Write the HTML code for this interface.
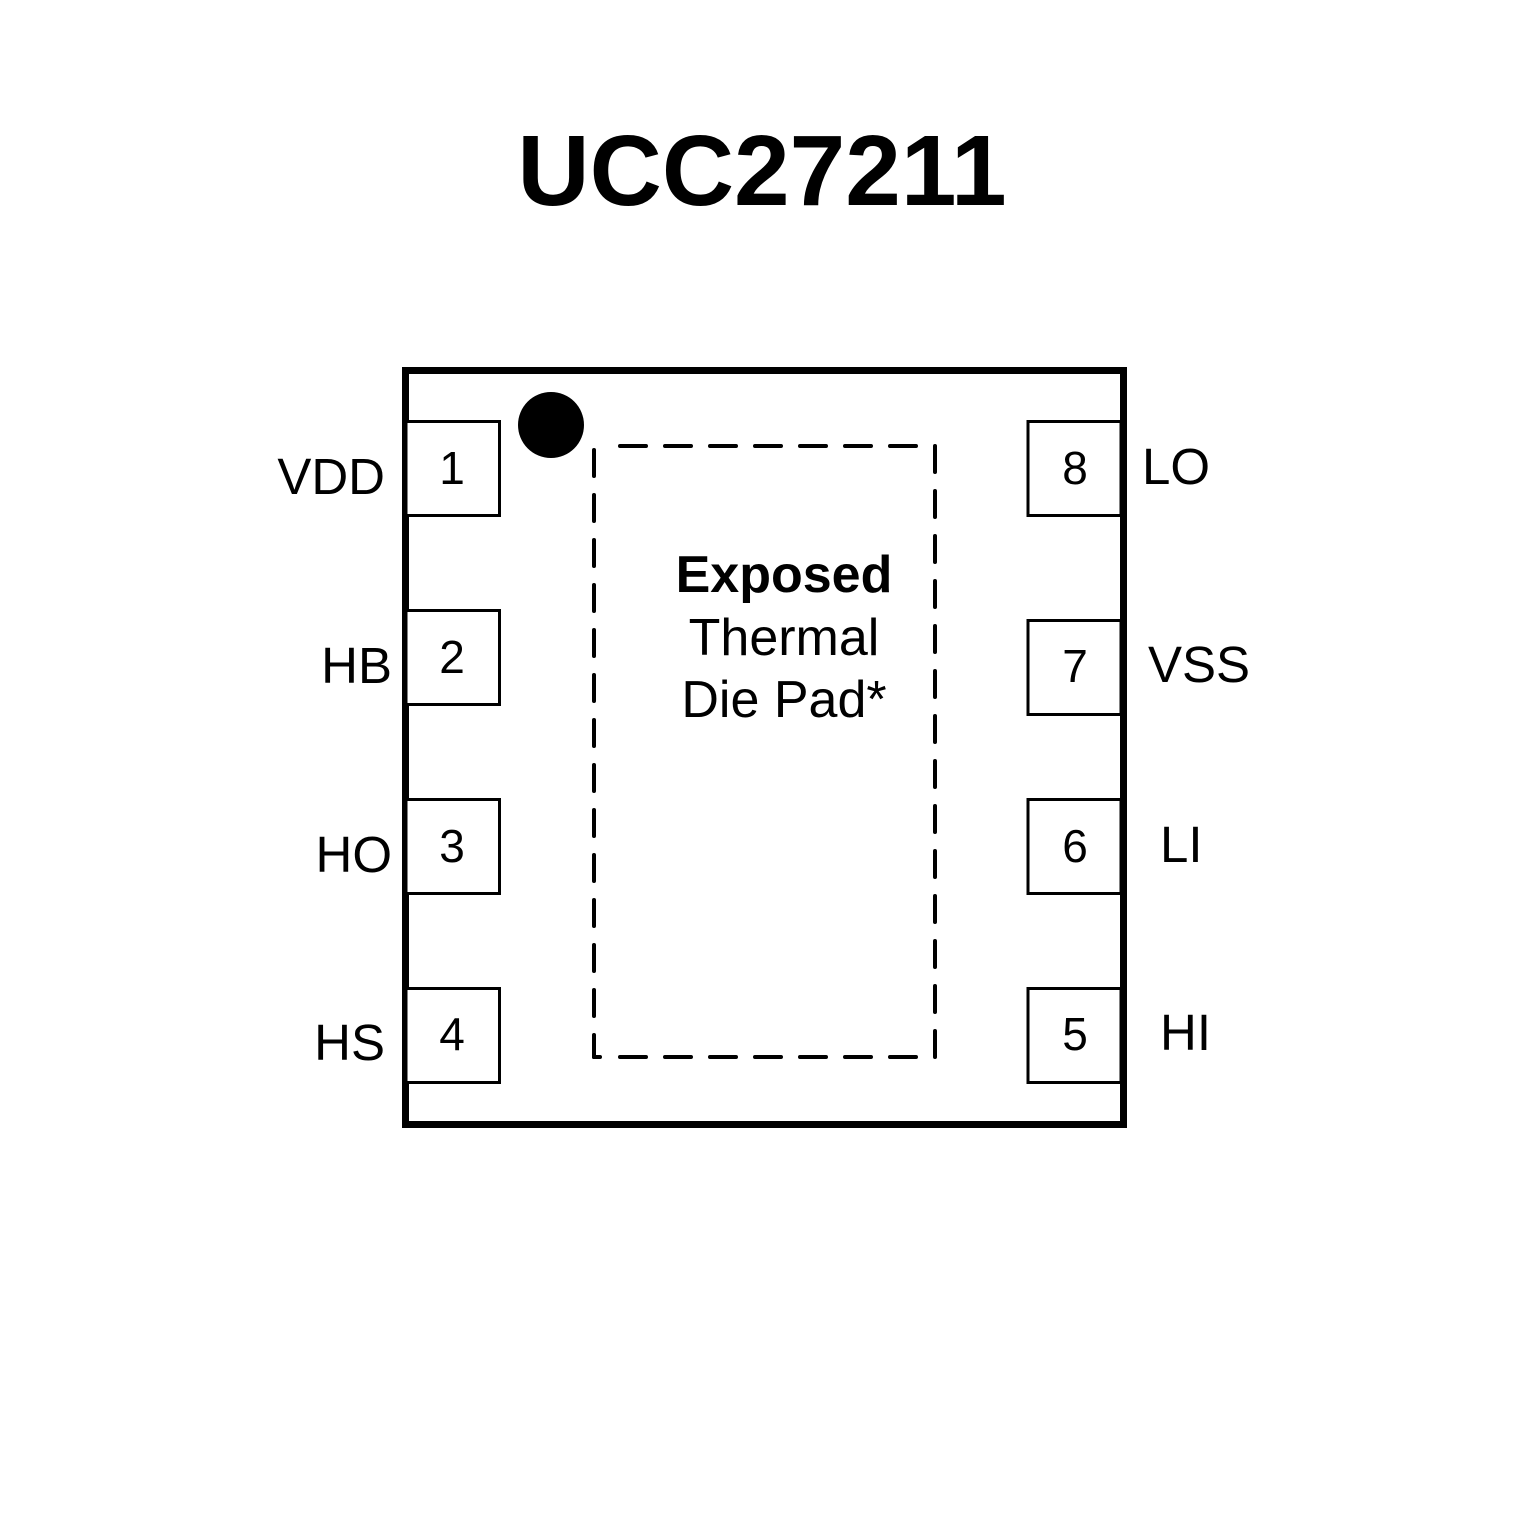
<!DOCTYPE html>
<html><head><style>html,body{margin:0;padding:0;background:#fff}</style></head><body>
<svg width="1535" height="1535" viewBox="0 0 1535 1535" xmlns="http://www.w3.org/2000/svg" font-family="Liberation Sans, Arial, sans-serif">
<rect width="1535" height="1535" fill="#fff"/>
<text x="762" y="205" font-size="100" font-weight="bold" text-anchor="middle" fill="#000">UCC27211</text>
<rect x="405.5" y="370.5" width="718" height="754" fill="none" stroke="#000" stroke-width="7"/>
<g fill="#fff" stroke="#000" stroke-width="3">
<rect x="406" y="421.5" width="93.5" height="94"/>
<rect x="406" y="610.5" width="93.5" height="94"/>
<rect x="406" y="799.5" width="93.5" height="94"/>
<rect x="406" y="988.5" width="93.5" height="94"/>
<rect x="1028" y="421.5" width="93" height="94"/>
<rect x="1028" y="620.5" width="93" height="94"/>
<rect x="1028" y="799.5" width="93" height="94"/>
<rect x="1028" y="988.5" width="93" height="94"/>
</g>
<circle cx="551" cy="425" r="33" fill="#000"/>
<g stroke="#000" stroke-width="4" stroke-linecap="round" fill="none" stroke-dasharray="26 19">
<line x1="620" y1="446" x2="935" y2="446"/>
<line x1="935" y1="446" x2="935" y2="1057"/>
<line x1="594" y1="450" x2="594" y2="1057"/>
<line x1="620" y1="1057" x2="930" y2="1057"/>
</g>
<line x1="594" y1="1040" x2="594" y2="1057" stroke="#000" stroke-width="4" stroke-linecap="round"/>
<line x1="594" y1="1057" x2="600" y2="1057" stroke="#000" stroke-width="4" stroke-linecap="round"/>
<g font-size="46" text-anchor="middle" fill="#000">
<text x="452" y="484">1</text><text x="452" y="673">2</text><text x="452" y="862">3</text><text x="452" y="1050">4</text>
<text x="1075" y="484">8</text><text x="1075" y="682">7</text><text x="1075" y="862">6</text><text x="1075" y="1050">5</text>
</g>
<g font-size="51" fill="#000">
<text x="385" y="494" text-anchor="end">VDD</text>
<text x="392" y="683" text-anchor="end">HB</text>
<text x="392" y="872" text-anchor="end">HO</text>
<text x="385" y="1060" text-anchor="end">HS</text>
<text x="1142" y="484">LO</text>
<text x="1148" y="682">VSS</text>
<text x="1160" y="862">LI</text>
<text x="1160" y="1050">HI</text>
</g>
<g font-size="52" text-anchor="middle" fill="#000">
<text x="784" y="592" font-weight="bold">Exposed</text>
<text x="784" y="655">Thermal</text>
<text x="784" y="717">Die Pad*</text>
</g>
</svg>
</body></html>
